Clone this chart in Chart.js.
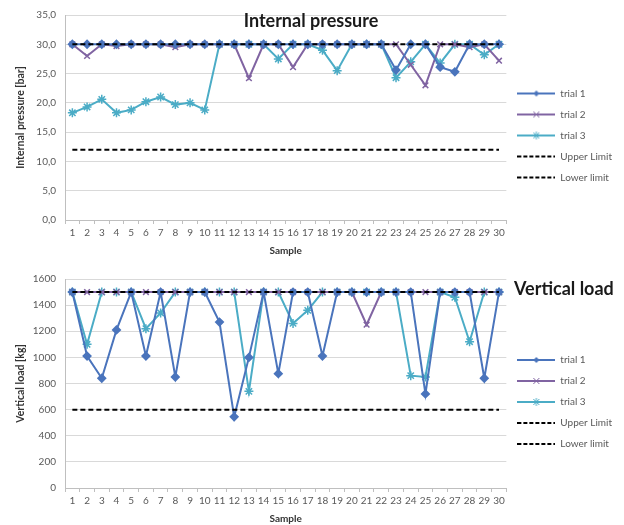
<!DOCTYPE html>
<html>
<head>
<meta charset="utf-8">
<title>Internal pressure / Vertical load</title>
<script src="https://cdn.jsdelivr.net/npm/chart.js"></script>
<style>
    body { margin: 0; background: #fff; }
    canvas { display: block; }
</style>
</head>
<body>
<canvas id="pressureChart" width="624" height="262"></canvas>
<canvas id="loadChart" width="624" height="263"></canvas>
<script>
const samples = ['1','2','3','4','5','6','7','8','9','10','11','12','13','14','15',
                 '16','17','18','19','20','21','22','23','24','25','26','27','28','29','30'];

// internal pressure [bar]
const pressureTrial1 = [30,30,30,30,30,30,30,30,30,30, 30,30,30,30,30,30,30,30,30,30, 30,30,25.6,30,30,26.1,25.3,30,30,30];
const pressureTrial2 = [30,28,30,29.7,30,30,30,29.5,30,30, 30,30,24.2,30,30,26.1,30,30,30,30, 30,30,30,26.5,23,30,30,29.5,30,27.2];
const pressureTrial3 = [18.3,19.3,20.6,18.3,18.8,20.2,21,19.7,20,18.8, 30,30,30,30,27.5,30,30,29,25.5,30, 30,30,24.3,27,30,26.8,30,30,28.2,30];
const pressureUpper  = [30,30,30,30,30,30,30,30,30,30, 30,30,30,30,30,30,30,30,30,30, 30,30,30,30,30,30,30,30,30,30];
const pressureLower  = [12,12,12,12,12,12,12,12,12,12, 12,12,12,12,12,12,12,12,12,12, 12,12,12,12,12,12,12,12,12,12];

// vertical load [kg]
const loadTrial1 = [1500,1010,840,1210,1500,1010,1500,850,1500,1500, 1270,545,1000,1500,875,1500,1500,1010,1500,1500, 1500,1500,1500,1500,720,1500,1500,1500,840,1500];
const loadTrial2 = [1500,1500,1500,1500,1500,1500,1500,1500,1500,1500, 1500,1500,1500,1500,1500,1500,1500,1500,1500,1500, 1250,1500,1500,1500,1500,1500,1500,1500,1500,1500];
const loadTrial3 = [1500,1100,1500,1500,1500,1220,1340,1500,1500,1500, 1500,1500,740,1500,1500,1260,1360,1500,1500,1500, 1500,1500,1500,860,850,1500,1460,1120,1500,1500];
const loadUpper  = [1500,1500,1500,1500,1500,1500,1500,1500,1500,1500, 1500,1500,1500,1500,1500,1500,1500,1500,1500,1500, 1500,1500,1500,1500,1500,1500,1500,1500,1500,1500];
const loadLower  = [600,600,600,600,600,600,600,600,600,600, 600,600,600,600,600,600,600,600,600,600, 600,600,600,600,600,600,600,600,600,600];

const seriesNames = ['trial 1', 'trial 2', 'trial 3', 'Upper Limit', 'Lower limit'];

const C1 = '#4a74bc', C2 = '#8064a2', C3 = '#4bacc6';
const FONT = 'Lato';

// small line+marker samples for the legend
function makeIcon(color, marker, dashed) {
    const c = document.createElement('canvas');
    c.width = 38; c.height = 10;
    const g = c.getContext('2d');
    g.strokeStyle = color; g.fillStyle = color; g.lineWidth = 2;
    if (dashed) g.setLineDash([4, 2]);
    g.beginPath(); g.moveTo(0, 5); g.lineTo(38, 5); g.stroke();
    g.setLineDash([]);
    g.lineWidth = 1;
    if (marker === 'diamond') {
        g.beginPath(); g.moveTo(19, 2); g.lineTo(22, 5); g.lineTo(19, 8); g.lineTo(16, 5); g.closePath(); g.fill();
    } else if (marker === 'x' || marker === 'star') {
        g.beginPath();
        g.moveTo(16, 2); g.lineTo(22, 8); g.moveTo(22, 2); g.lineTo(16, 8);
        if (marker === 'star') { g.moveTo(19, 1); g.lineTo(19, 9); }
        g.stroke();
    }
    return c;
}
const icons = [makeIcon(C1, 'diamond'), makeIcon(C2, 'x'), makeIcon(C3, 'star'),
               makeIcon('#000', null, true), makeIcon('#000', null, true)];

const titlePlugin = {
    id: 'floatTitle',
    afterDraw(chart, args, opts) {
        const ctx = chart.ctx;
        ctx.save();
        ctx.font = 'bold 18px ' + FONT;
        ctx.fillStyle = '#1a1a1a';
        ctx.textAlign = opts.align || 'left';
        ctx.textBaseline = 'middle';
        ctx.fillText(opts.text, opts.x, opts.y);
        ctx.restore();
    }
};

function buildChart(id, t1, t2, t3, up, low, yMax, yStep, yTitle, fmt, title, pad) {
    return new Chart(document.getElementById(id).getContext('2d'), {
        type: 'line',
        data: {
            labels: samples,
            datasets: [
                { label: seriesNames[0], data: t1, borderColor: C1, backgroundColor: C1, borderWidth: 2,
                  pointStyle: 'rectRot', pointRadius: 3.5, order: 1 },
                { label: seriesNames[1], data: t2, borderColor: C2, backgroundColor: C2, borderWidth: 2,
                  pointStyle: 'crossRot', pointRadius: 4, pointBorderWidth: 1.5, order: 1 },
                { label: seriesNames[2], data: t3, borderColor: C3, backgroundColor: C3, borderWidth: 2,
                  pointStyle: 'star', pointRadius: 4.5, pointBorderWidth: 1.5, order: 1 },
                { label: seriesNames[3], data: up, borderColor: '#000', borderWidth: 2, borderDash: [5, 3],
                  pointRadius: 0, order: 0 },
                { label: seriesNames[4], data: low, borderColor: '#000', borderWidth: 2, borderDash: [5, 3],
                  pointRadius: 0, order: 0 }
            ]
        },
        options: {
            responsive: false,
            animation: false,
            layout: { padding: pad },
            plugins: {
                floatTitle: title,
                tooltip: { enabled: false },
                legend: {
                    position: 'right',
                    labels: {
                        usePointStyle: true,
                        pointStyleWidth: 38,
                        padding: 11,
                        color: '#595959',
                        font: { family: FONT, size: 10 },
                        sort: (a, b) => a.datasetIndex - b.datasetIndex,
                        generateLabels(chart) {
                            const items = Chart.defaults.plugins.legend.labels.generateLabels(chart);
                            items.forEach(it => { it.pointStyle = icons[it.datasetIndex]; });
                            return items;
                        }
                    }
                }
            },
            scales: {
                x: {
                    offset: true,
                    grid: { offset: true, drawOnChartArea: false, tickLength: 4, color: '#bfbfbf' },
                    border: { color: '#bfbfbf' },
                    ticks: { color: '#595959', font: { family: FONT, size: 10 }, padding: 3, maxRotation: 0, autoSkip: false },
                    title: { display: true, text: 'Sample', color: '#333', font: { family: FONT, size: 10, weight: 'bold' }, padding: { top: 3, bottom: 0 } }
                },
                y: {
                    min: 0, max: yMax,
                    afterFit(scale) { scale.width = 65; },
                    grid: { color: '#d9d9d9', drawTicks: false },
                    border: { color: '#bfbfbf' },
                    ticks: { stepSize: yStep, color: '#595959', font: { family: FONT, size: 10 }, padding: 9, callback: fmt },
                    title: { display: true, text: yTitle, color: '#333', font: { family: FONT, size: 10.5, weight: 'bold' }, padding: { top: 14, bottom: 4 } }
                }
            }
        },
        plugins: [titlePlugin]
    });
}

buildChart('pressureChart', pressureTrial1, pressureTrial2, pressureTrial3, pressureUpper, pressureLower,
    35, 5, 'Internal pressure [bar]', v => v.toFixed(1).replace('.', ','),
    { text: 'Internal pressure', x: 311, y: 21, align: 'center' },
    { top: 14, bottom: 5, left: 0, right: 2 });

buildChart('loadChart', loadTrial1, loadTrial2, loadTrial3, loadUpper, loadLower,
    1600, 200, 'Vertical load [kg]', v => v,
    { text: 'Vertical load', x: 514, y: 27, align: 'left' },
    { top: 17, bottom: 0, left: 0, right: 2 });
</script>
</body>
</html>
